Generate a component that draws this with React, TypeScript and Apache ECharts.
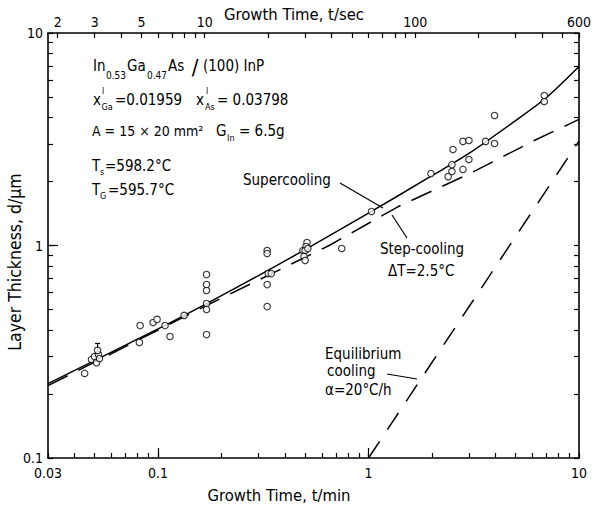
import React, { useEffect, useRef } from 'react';
import * as echarts from 'echarts';

// ---- tick labels ----
const bottomLabelValues = [0.03, 0.1, 1, 10];
const bottomLabels = ['0.03', '0.1', '1', '10'];
const topLabelValues = [2, 3, 5, 10, 100, 600];
const topLabels = ['2', '3', '5', '10', '100', '600'];
const leftLabelValues = [0.1, 1, 10];
const leftLabels = ['0.1', '1', '10'];

// ---- tick positions ----
const minuteTicks = [0.03, 0.04, 0.05, 0.06, 0.07, 0.08, 0.09, 0.1, 0.2, 0.3, 0.4, 0.5, 0.6, 0.7, 0.8, 0.9, 1, 2, 3, 4, 5, 6, 7, 8, 9, 10];
const minuteMajorTicks = [0.1, 1];
const secondTicks = [2, 3, 4, 5, 6, 7, 8, 9, 10, 20, 30, 40, 50, 60, 70, 80, 90, 100, 200, 300, 400, 500, 600];
const thicknessTicks = [0.1, 0.2, 0.3, 0.4, 0.5, 0.6, 0.7, 0.8, 0.9, 1, 2, 3, 4, 5, 6, 7, 8, 9, 10];
const thicknessMajorTicks = [1];

// ---- measured points (t in min, d in µm) ----
const pointTime = [0.0448, 0.0483, 0.0499, 0.0510, 0.0521, 0.0527, 0.0516, 0.0822, 0.0815, 0.0947, 0.0989, 0.108, 0.114, 0.133, 0.170, 0.170, 0.170, 0.170, 0.170, 0.170, 0.330, 0.330, 0.334, 0.345, 0.330, 0.330, 0.510, 0.505, 0.488, 0.500, 0.515, 0.494, 0.500, 0.746, 1.033, 1.98, 2.49, 2.39, 2.49, 2.52, 2.81, 3.00, 2.81, 3.00, 3.60, 3.97, 3.97, 6.84, 6.84];
const pointThickness = [0.250, 0.291, 0.300, 0.281, 0.307, 0.294, 0.321, 0.420, 0.350, 0.434, 0.449, 0.420, 0.373, 0.469, 0.730, 0.655, 0.614, 0.533, 0.500, 0.381, 0.947, 0.917, 0.738, 0.738, 0.655, 0.516, 1.033, 0.989, 0.947, 0.947, 0.968, 0.888, 0.850, 0.968, 1.445, 2.18, 2.40, 2.11, 2.23, 2.83, 2.28, 2.54, 3.09, 3.12, 3.09, 4.09, 3.02, 5.08, 4.76];

// error bar
const errorBarTime = [0.0516];
const errorBarLow = [0.31];
const errorBarHigh = [0.346];

// ---- curves ----
const supercoolingTime = [0.03, 0.1, 0.17, 0.3, 0.5, 1, 2, 3, 5, 7, 10];
const supercoolingThickness = [0.224, 0.405, 0.533, 0.722, 0.957, 1.42, 2.13, 2.71, 3.87, 4.97, 6.96];
const stepCoolingTime = [0.03, 0.17, 0.65, 1.385, 3.03, 6.13, 10];
const stepCoolingThickness = [0.219, 0.522, 1.0, 1.525, 2.18, 3.12, 3.92];
const equilibriumTime = [1, 10];
const equilibriumThickness = [0.1, 3.1];

const L = Math.log10;
const FONT = "'DejaVu Sans Condensed', 'DejaVu Sans', sans-serif";
const BLACK = '#000';

function fmt(values: number[], labels: string[]) {
  return (v: number) => {
    const i = values.findIndex((x) => Math.abs(L(x) - v) < 1e-6);
    return i >= 0 ? labels[i] : '';
  };
}

function txt(text: string, x: number, y: number, size = 15, align = 'left', extra: any = {}) {
  return {
    type: 'text',
    x,
    y,
    silent: true,
    ...extra,
    style: {
      text,
      fill: BLACK,
      fontSize: size,
      fontFamily: FONT,
      align,
      textAlign: align,
      verticalAlign: 'middle',
      textVerticalAlign: 'middle',
    },
  };
}

function seg(x1: number, y1: number, x2: number, y2: number) {
  return { type: 'line', silent: true, shape: { x1, y1, x2, y2 }, style: { stroke: BLACK, lineWidth: 1.2 } };
}

const axisLineStyle = { color: BLACK, width: 1.6 };
const tickLineStyle = { color: BLACK, width: 1.2 };
const labelStyle = { color: BLACK, fontSize: 14, fontFamily: FONT };

function buildOption() {
  const xmin = L(0.03);
  const xmax = L(10);
  return {
    animation: false,
    backgroundColor: '#fff',
    grid: { left: 48, right: 12, top: 33, bottom: 48, containLabel: false },
    xAxis: [
      {
        type: 'value', position: 'bottom', min: xmin, max: xmax,
        axisLine: { show: true, onZero: false, lineStyle: axisLineStyle },
        axisTick: { show: true, inside: true, length: 5, lineStyle: tickLineStyle, customValues: minuteTicks.map(L) },
        axisLabel: { show: true, margin: 8, ...labelStyle, customValues: bottomLabelValues.map(L), formatter: fmt(bottomLabelValues, bottomLabels) },
        splitLine: { show: false },
      },
      {
        type: 'value', position: 'top', min: L(1.8), max: L(600),
        axisLine: { show: true, onZero: false, lineStyle: axisLineStyle },
        axisTick: { show: true, inside: true, length: 5, lineStyle: tickLineStyle, customValues: secondTicks.map(L) },
        axisLabel: { show: true, margin: 4, ...labelStyle, customValues: topLabelValues.map(L), formatter: fmt(topLabelValues, topLabels) },
        splitLine: { show: false },
      },
      {
        type: 'value', position: 'bottom', min: xmin, max: xmax,
        axisLine: { show: false, onZero: false },
        axisTick: { show: true, inside: true, length: 10, lineStyle: tickLineStyle, customValues: minuteMajorTicks.map(L) },
        axisLabel: { show: false },
        splitLine: { show: false },
      },
    ],
    yAxis: [
      {
        type: 'value', position: 'left', min: -1, max: 1,
        axisLine: { show: true, onZero: false, lineStyle: axisLineStyle },
        axisTick: { show: true, inside: true, length: 5, lineStyle: tickLineStyle, customValues: thicknessTicks.map(L) },
        axisLabel: { show: true, margin: 5, ...labelStyle, customValues: leftLabelValues.map(L), formatter: fmt(leftLabelValues, leftLabels) },
        splitLine: { show: false },
      },
      {
        type: 'value', position: 'right', min: -1, max: 1,
        axisLine: { show: true, onZero: false, lineStyle: axisLineStyle },
        axisTick: { show: true, inside: true, length: 5, lineStyle: tickLineStyle, customValues: thicknessTicks.map(L) },
        axisLabel: { show: false },
        splitLine: { show: false },
      },
      {
        type: 'value', position: 'left', min: -1, max: 1,
        axisLine: { show: false, onZero: false },
        axisTick: { show: true, inside: true, length: 10, lineStyle: tickLineStyle, customValues: thicknessMajorTicks.map(L) },
        axisLabel: { show: false },
        splitLine: { show: false },
      },
    ],
    series: [
      {
        name: 'Supercooling', type: 'line', xAxisIndex: 0, yAxisIndex: 0, smooth: 0.3, symbol: 'none', z: 3,
        lineStyle: { color: BLACK, width: 1.5 },
        data: supercoolingTime.map((t, i) => [L(t), L(supercoolingThickness[i])]),
      },
      {
        name: 'Step-cooling', type: 'line', xAxisIndex: 0, yAxisIndex: 0, smooth: false, symbol: 'none', z: 3,
        lineStyle: { color: BLACK, width: 1.5, type: [22, 12] },
        data: stepCoolingTime.map((t, i) => [L(t), L(stepCoolingThickness[i])]),
      },
      {
        name: 'Equilibrium cooling', type: 'line', xAxisIndex: 0, yAxisIndex: 0, symbol: 'none', z: 3,
        lineStyle: { color: BLACK, width: 1.5, type: [20, 14] },
        data: equilibriumTime.map((t, i) => [L(t), L(equilibriumThickness[i])]),
      },
      {
        name: 'Error bar', type: 'custom', xAxisIndex: 0, yAxisIndex: 0, z: 4,
        data: errorBarTime.map((t, i) => [L(t), L(errorBarLow[i]), L(errorBarHigh[i])]),
        renderItem: (params: any, api: any) => {
          const x = api.value(0);
          const lo = api.coord([x, api.value(1)]);
          const hi = api.coord([x, api.value(2)]);
          return {
            type: 'group',
            children: [
              { type: 'line', shape: { x1: lo[0], y1: lo[1], x2: hi[0], y2: hi[1] }, style: { stroke: BLACK, lineWidth: 1.2 } },
              { type: 'line', shape: { x1: hi[0] - 2.5, y1: hi[1], x2: hi[0] + 2.5, y2: hi[1] }, style: { stroke: BLACK, lineWidth: 1.2 } },
            ],
          };
        },
      },
      {
        name: 'Measured', type: 'scatter', xAxisIndex: 0, yAxisIndex: 0, z: 5,
        symbol: 'circle', symbolSize: 6.5,
        itemStyle: { color: '#fff', borderColor: BLACK, borderWidth: 1.1 },
        data: pointTime.map((t, i) => [L(t), L(pointThickness[i])]),
      },
    ],
    graphic: {
      elements: [
        // axis titles
        txt('Growth Time, t/sec', 294, 14, 16.5, 'center'),
        txt('Growth Time, t/min', 279, 495, 16.5, 'center'),
        txt('Layer Thickness, d/\u03bcm', 15, 262, 17.5, 'center', { rotation: Math.PI / 2 }),
        // composition block
        txt('In', 93, 66), txt('0.53', 106, 75, 10), txt('Ga', 127, 66), txt('0.47', 147, 75, 10), txt('As', 168, 66),
        txt('/', 195, 67, 22, 'center'), txt('(100) InP', 203, 66),
        txt('x', 93, 100), txt('l', 102, 91, 9), txt('Ga', 101.5, 107, 9), txt('=0.01959', 115, 100),
        txt('x', 196, 100), txt('l', 206, 91, 9), txt('As', 205, 107, 9), txt('= 0.03798', 217, 100),
        txt('A = 15 \u00d7 20 mm\u00b2', 92, 131, 14),
        txt('G', 216, 131), txt('In', 227, 138, 9), txt('= 6.5g', 239, 131),
        txt('T', 92, 166), txt('s', 100, 172, 9), txt('=598.2\u00b0C', 105, 166),
        txt('T', 92, 190), txt('G', 100, 196, 9), txt('=595.7\u00b0C', 108, 190),
        // curve labels
        txt('Supercooling', 243, 180),
        seg(340, 183, 383, 208),
        txt('Step-cooling', 380, 249),
        txt('\u0394T=2.5\u00b0C', 388, 271),
        seg(407, 238, 392, 215),
        txt('Equilibrium', 325, 354),
        txt('cooling', 327, 371),
        txt('\u03b1=20\u00b0C/h', 325, 390),
        seg(387, 374, 417, 379),
      ],
    },
  };
}

export default function App() {
  const ref = useRef<HTMLDivElement>(null);
  useEffect(() => {
    if (!ref.current) return;
    const chart = echarts.init(ref.current, null, { renderer: 'svg' });
    chart.setOption(buildOption() as any);
    return () => chart.dispose();
  }, []);
  return <div ref={ref} style={{ position: 'absolute', left: 0, top: 0, width: 594, height: 506, background: '#fff' }} />;
}
